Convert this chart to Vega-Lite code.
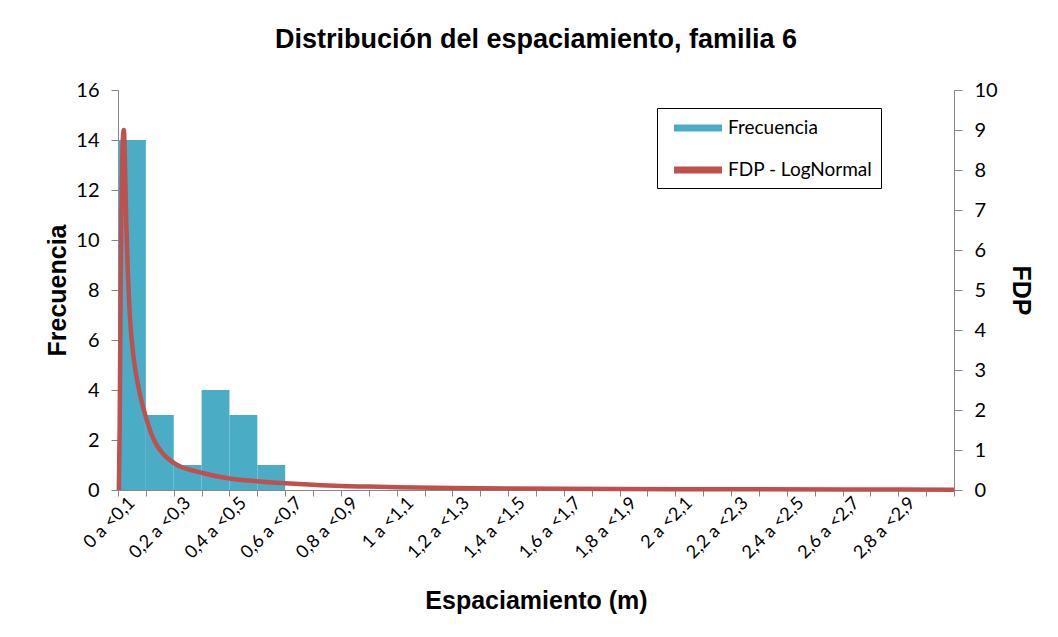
{
  "$schema": "https://vega.github.io/schema/vega-lite/v6.json",
  "width": 836,
  "height": 400,
  "autosize": {"type": "none"},
  "padding": {"left": 118, "top": 90, "right": 104, "bottom": 147},
  "background": "white",
  "title": {
    "text": "Distribución del espaciamiento, familia 6",
    "anchor": "middle",
    "font": "Liberation Sans",
    "fontSize": 27,
    "fontWeight": "bold",
    "color": "#000",
    "offset": 26
  },
  "config": {
    "view": {"stroke": null},
    "axis": {
      "domainColor": "#868686",
      "tickColor": "#868686",
      "labelColor": "#000",
      "grid": false,
      "labelFont": "Lato",
      "titleFont": "Liberation Sans",
      "titleFontWeight": "bold",
      "titleColor": "#000"
    }
  },
  "datasets": {
    "bins": [
      {"lo": 0.0, "hi": 0.1, "count": 14},
      {"lo": 0.1, "hi": 0.2, "count": 3},
      {"lo": 0.2, "hi": 0.3, "count": 1},
      {"lo": 0.3, "hi": 0.4, "count": 4},
      {"lo": 0.4, "hi": 0.5, "count": 3},
      {"lo": 0.5, "hi": 0.6, "count": 1},
      {"lo": 0.6, "hi": 0.7, "count": 0},
      {"lo": 0.7, "hi": 0.8, "count": 0},
      {"lo": 0.8, "hi": 0.9, "count": 0},
      {"lo": 0.9, "hi": 1.0, "count": 0},
      {"lo": 1.0, "hi": 1.1, "count": 0},
      {"lo": 1.1, "hi": 1.2, "count": 0},
      {"lo": 1.2, "hi": 1.3, "count": 0},
      {"lo": 1.3, "hi": 1.4, "count": 0},
      {"lo": 1.4, "hi": 1.5, "count": 0},
      {"lo": 1.5, "hi": 1.6, "count": 0},
      {"lo": 1.6, "hi": 1.7, "count": 0},
      {"lo": 1.7, "hi": 1.8, "count": 0},
      {"lo": 1.8, "hi": 1.9, "count": 0},
      {"lo": 1.9, "hi": 2.0, "count": 0},
      {"lo": 2.0, "hi": 2.1, "count": 0},
      {"lo": 2.1, "hi": 2.2, "count": 0},
      {"lo": 2.2, "hi": 2.3, "count": 0},
      {"lo": 2.3, "hi": 2.4, "count": 0},
      {"lo": 2.4, "hi": 2.5, "count": 0},
      {"lo": 2.5, "hi": 2.6, "count": 0},
      {"lo": 2.6, "hi": 2.7, "count": 0},
      {"lo": 2.7, "hi": 2.8, "count": 0},
      {"lo": 2.8, "hi": 2.9, "count": 0},
      {"lo": 2.9, "hi": 3.0, "count": 0}
    ],
    "curve": [
      {"x": 0.003, "pdf": 0},
      {"x": 0.006, "pdf": 1.6},
      {"x": 0.009, "pdf": 4.6},
      {"x": 0.012, "pdf": 6.9},
      {"x": 0.015, "pdf": 8.2},
      {"x": 0.018, "pdf": 8.85},
      {"x": 0.021, "pdf": 9.0},
      {"x": 0.024, "pdf": 8.5},
      {"x": 0.027, "pdf": 7.5},
      {"x": 0.030, "pdf": 6.6},
      {"x": 0.035, "pdf": 5.5},
      {"x": 0.040, "pdf": 4.7},
      {"x": 0.045, "pdf": 4.1},
      {"x": 0.050, "pdf": 3.7},
      {"x": 0.060, "pdf": 3.1},
      {"x": 0.070, "pdf": 2.7},
      {"x": 0.080, "pdf": 2.35},
      {"x": 0.090, "pdf": 2.07},
      {"x": 0.100, "pdf": 1.83},
      {"x": 0.117, "pdf": 1.45},
      {"x": 0.141, "pdf": 1.1},
      {"x": 0.160, "pdf": 0.92},
      {"x": 0.177, "pdf": 0.8},
      {"x": 0.200, "pdf": 0.68},
      {"x": 0.230, "pdf": 0.57},
      {"x": 0.261, "pdf": 0.5},
      {"x": 0.300, "pdf": 0.43},
      {"x": 0.350, "pdf": 0.35},
      {"x": 0.400, "pdf": 0.29},
      {"x": 0.500, "pdf": 0.22},
      {"x": 0.600, "pdf": 0.17},
      {"x": 0.700, "pdf": 0.13},
      {"x": 0.800, "pdf": 0.10},
      {"x": 0.900, "pdf": 0.085},
      {"x": 1.000, "pdf": 0.07},
      {"x": 1.200, "pdf": 0.05},
      {"x": 1.400, "pdf": 0.04},
      {"x": 1.600, "pdf": 0.032},
      {"x": 1.800, "pdf": 0.026},
      {"x": 2.000, "pdf": 0.021},
      {"x": 2.300, "pdf": 0.016},
      {"x": 2.600, "pdf": 0.012},
      {"x": 3.000, "pdf": 0.009}
    ]
  },
  "layer": [
    {
      "data": {"name": "bins"},
      "mark": {"type": "rect", "stroke": null},
      "encoding": {
        "x": {
          "field": "lo",
          "type": "quantitative",
          "scale": {"domain": [0, 3], "nice": false, "zero": false},
          "axis": {
            "orient": "bottom",
            "values": [0, 0.1, 0.2, 0.3, 0.4, 0.5, 0.6, 0.7, 0.8, 0.9, 1.0, 1.1, 1.2, 1.3, 1.4, 1.5, 1.6, 1.7, 1.8, 1.9, 2.0, 2.1, 2.2, 2.3, 2.4, 2.5, 2.6, 2.7, 2.8, 2.9, 3.0],
            "labels": false,
            "tickSize": 6,
            "title": "Espaciamiento (m)",
            "titleFontSize": 25,
            "titleX": 418,
            "titleY": 110,
            "titleAlign": "center",
            "titleBaseline": "middle"
          }
        },
        "x2": {"field": "hi"},
        "y": {
          "field": "count",
          "type": "quantitative",
          "scale": {"domain": [0, 16], "nice": false},
          "axis": {
            "orient": "left",
            "values": [0, 2, 4, 6, 8, 10, 12, 14, 16],
            "tickSize": 7,
            "labelPadding": 12,
            "labelFontSize": 20,
            "title": "Frecuencia",
            "titleFontSize": 25,
            "titleAngle": -90,
            "titleX": -61,
            "titleY": 200,
            "titleAlign": "center",
            "titleBaseline": "middle"
          }
        },
        "y2": {"datum": 0},
        "color": {
          "datum": "Frecuencia",
          "type": "nominal",
          "scale": {"domain": ["Frecuencia", "FDP - LogNormal"], "range": ["#4BACC6", "#C0504D"]},
          "legend": {
            "orient": "none",
            "legendX": 539,
            "legendY": 18,
            "title": null,
            "strokeColor": "#000",
            "fillColor": "white",
            "padding": 8,
            "labelFont": "Lato",
            "labelFontSize": 19,
            "labelColor": "#000",
            "symbolType": "M-2,-0.3H2V0.3H-2Z",
            "symbolSize": 576,
            "symbolStrokeWidth": 0,
            "symbolOffset": 21,
            "labelOffset": 18,
            "rowPadding": 20
          }
        }
      }
    },
    {
      "data": {"name": "curve"},
      "mark": {"type": "line", "strokeWidth": 4.5, "interpolate": "monotone"},
      "encoding": {
        "x": {
          "field": "x",
          "type": "quantitative",
          "scale": {"domain": [0, 3], "nice": false, "zero": false},
          "axis": {
            "orient": "bottom",
            "values": [0.05, 0.25, 0.45, 0.65, 0.85, 1.05, 1.25, 1.45, 1.65, 1.85, 2.05, 2.25, 2.45, 2.65, 2.85],
            "domain": false,
            "ticks": false,
            "labelAngle": -45,
            "labelAlign": "right",
            "labelBaseline": "middle",
            "labelPadding": 10,
            "labelFontSize": 18,
            "labelOverlap": false,
            "labelExpr": "replace(format(datum.value - 0.05, '.1~f'), '.', ',') + ' a <' + replace(format(datum.value + 0.05, '.1~f'), '.', ',')",
            "title": null
          }
        },
        "y": {
          "field": "pdf",
          "type": "quantitative",
          "scale": {"domain": [0, 10], "nice": false},
          "axis": {
            "orient": "right",
            "values": [0, 1, 2, 3, 4, 5, 6, 7, 8, 9, 10],
            "tickSize": 8,
            "labelPadding": 12,
            "labelFontSize": 20,
            "title": "FDP",
            "titleFontSize": 25,
            "titleAngle": 90,
            "titleX": 66,
            "titleY": 200,
            "titleAlign": "center",
            "titleBaseline": "middle"
          }
        },
        "color": {"datum": "FDP - LogNormal", "type": "nominal"}
      }
    }
  ],
  "resolve": {"scale": {"y": "independent"}, "axis": {"x": "independent", "y": "independent"}}
}
